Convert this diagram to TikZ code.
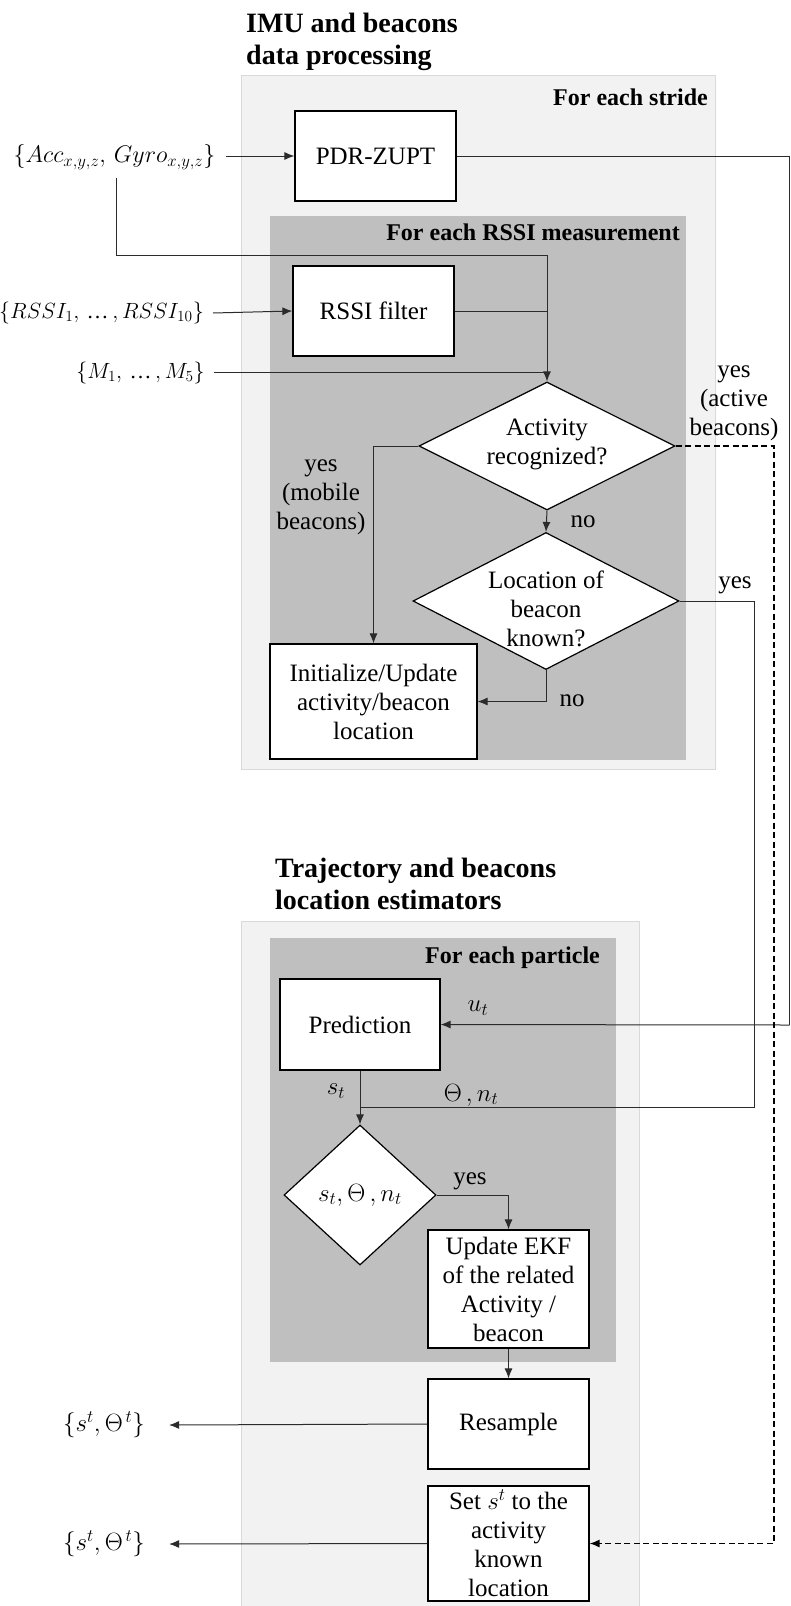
\RequirePackage{fix-cm}
\documentclass[tikz,border=0pt]{standalone}
\usepackage{fontspec}
\setmainfont{Liberation Serif}
\usetikzlibrary{shapes.geometric,arrows.meta}
\definecolor{lightbg}{HTML}{F2F2F2}
\definecolor{lightbd}{HTML}{D9D9D9}
\definecolor{darkbg}{HTML}{BFBFBF}
\definecolor{wire}{HTML}{2B2B2B}
\newcommand{\myell}{\mbox{\fontsize{22}{26}\selectfont\char"2026}}
\begin{document}
\begin{tikzpicture}[x=1pt,y=-1pt,
  every node/.style={font=\fontsize{25}{29}\selectfont},
  proc/.style={draw=black,line width=1.2pt,fill=white,align=center,inner sep=0pt},
  dec/.style={diamond,draw=black,line width=1.2pt,fill=white,inner sep=0pt},
  wirel/.style={draw=wire,line width=1pt},
  arr/.style={wirel,-{Latex[length=10pt,width=8pt]}},
  lab/.style={align=center,inner sep=0pt},
  inp/.style={inner sep=0pt},
  head/.style={font=\fontsize{24}{28}\selectfont\bfseries,inner sep=0pt,anchor=east},
  ttl/.style={font=\fontsize{28}{32}\selectfont\bfseries,align=left,inner sep=0pt,anchor=north west},
]
\useasboundingbox (0,0) rectangle (790,1606);

% frames
\path[fill=lightbg,draw=lightbd,line width=0.6pt] (241,75) rectangle (715,769);
\path[fill=darkbg] (270,216) rectangle (686,760);
\path[fill=lightbg,draw=lightbd,line width=0.6pt] (241,921) rectangle (639,1612);
\path[fill=darkbg] (270,938) rectangle (616,1362);

% titles and headers
\node[ttl] (t1) at (246,13) {IMU and beacons\\data processing};
\node[ttl] (t2) at (275,858) {Trajectory and beacons\\location estimators};
\node[head] (h1) at (708,97) {For each stride};
\node[head] (h2) at (680,232) {For each RSSI measurement};
\node[head] (h3) at (600,958) {For each particle};

% inputs
\node[inp,font=\fontsize{24}{28}\selectfont] (acc) at (114.5,157) {$\{Acc_{x,y,z},\, Gyro_{x,y,z}\}$};
\node[inp,font=\fontsize{22}{26}\selectfont] (rssi) at (101.5,313) {$\{RSSI_1,\,\myell\,,RSSI_{10}\}$};
\node[inp,font=\fontsize{22}{26}\selectfont] (m) at (140.5,373) {$\{M_1,\,\myell\,,M_5\}$};

% process boxes
\node[proc,minimum width=161pt,minimum height=90pt] (pdr) at (375.5,156) {PDR-ZUPT};
\node[proc,minimum width=161pt,minimum height=90pt] (rf) at (373.5,311) {RSSI filter};
\node[dec,minimum width=256pt,minimum height=128pt] (d1) at (547,446) {};
\node[lab] (d1t) at (547,444) {Activity\\recognized?};
\node[dec,minimum width=266pt,minimum height=137pt] (d2) at (546,601) {};
\node[lab] (d2t) at (546,609) {Location of\\beacon\\known?};
\node[proc,minimum width=207pt,minimum height=115pt] (init) at (373.5,701.5) {Initialize/Update\\activity/beacon\\location};

\node[proc,minimum width=160pt,minimum height=91pt] (pred) at (360,1024.5) {Prediction};
\node[dec,minimum width=152pt,minimum height=140pt] (d3) at (360,1195) {};
\node[lab] (d3t) at (360,1195) {$s_t,\Theta\,,n_t$};
\node[proc,minimum width=161pt,minimum height=118pt] (ekf) at (508.5,1289) {Update EKF\\of the related\\Activity /\\beacon};
\node[proc,minimum width=161pt,minimum height=90pt] (res) at (508.5,1424) {Resample};
\node[proc,minimum width=161pt,minimum height=115pt] (set) at (508.5,1543.5) {Set $s^t$ to the\\activity\\known\\location};

\node[inp] (o1) at (104,1425) {$\{s^t,\Theta^{\,t}\}$};
\node[inp] (o2) at (104,1544) {$\{s^t,\Theta^{\,t}\}$};

% helper coordinates
\coordinate (rt) at (789.5,156);
\coordinate (rb) at (789.5,1025);
\coordinate (j1) at (547,255);
\coordinate (ds) at (774,446);
\coordinate (yr) at (754,1107);
\coordinate (yj) at (360,1107);
\coordinate (accb) at (116,178);
\coordinate (acce) at (226,156);
\coordinate (rssie) at (213,313);
\coordinate (me) at (214,372);

% connectors
\draw[arr] (acce) -- (pdr.west);
\draw[wirel] (pdr.east) -- (rt) -- (rb);
\draw[arr] (rb) -- (pred.east);
\draw[wirel] (accb) |- (j1);
\draw[arr] (j1) -- (d1.north);
\draw[arr] (rssie) -- (rf.west);
\draw[wirel] (rf.east) -- (rf.east -| j1);
\draw[wirel] (me) -- (me -| j1);
\draw[arr] (d1.south) -- (d2.north);
\draw[arr] (d1.west) -| (init.north);
\draw[arr,draw=black,line width=1.3pt,dash pattern=on 6pt off 3.5pt] (d1.east) -- (ds) |- (set.east);
\draw[wirel] (d2.east) -| (yr) -- (yj);
\draw[arr] (d2.south) |- (init.east);
\draw[arr] (pred.south) -- (d3.north);
\draw[arr] (d3.east) -| (ekf.north);
\draw[arr] (ekf.south) -- (res.north);
\draw[arr] (res.west) -- ([xshift=24pt]o1.east);
\draw[arr] (set.west) -- ([xshift=24pt]o2.east);

% labels
\node[lab] (l1) at (734,403) {yes\\(active\\beacons)};
\node[lab] (l2) at (321,497) {yes\\(mobile\\beacons)};
\node[lab] (l3) at (583,522) {no};
\node[lab] (l4) at (735,585) {yes};
\node[lab] (l5) at (572,701) {no};
\node[lab] (l6) at (478,1008) {$u_t$};
\node[lab] (l7) at (336,1091) {$s_t$};
\node[lab] (l8) at (471,1095) {$\Theta\,,n_t$};
\node[lab] (l9) at (470,1181) {yes};
\end{tikzpicture}
\end{document}
